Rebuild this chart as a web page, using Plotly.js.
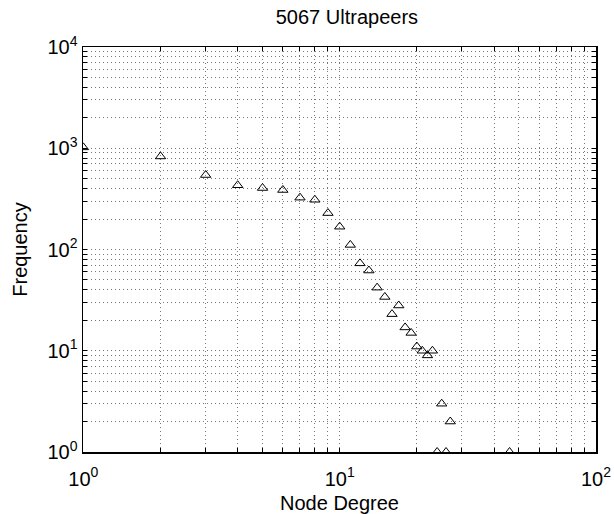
<!DOCTYPE html>
<html>
<head>
<meta charset="utf-8">
<script src="https://cdn.plot.ly/plotly-3.0.1.min.js"></script>
<style>
  html, body { margin: 0; padding: 0; background: #fff; }
  #chart { width: 614px; height: 514px; }
</style>
</head>
<body>
<div id="chart"></div>
<script>
// Data
const nodeDegree = [1, 2, 3, 4, 5, 6, 7, 8, 9, 10, 11, 12, 13, 14, 15, 16, 17, 18, 19, 20, 21, 22, 23, 24, 25, 26, 27, 46];
const frequency  = [1020, 830, 544, 431, 405, 387, 325, 310, 229, 168, 111, 73, 62, 42, 34, 23, 28, 17, 15, 11, 10, 9, 10, 1, 3, 1, 2, 1];

// Tick positions (log axes, major + minor grid)
const xTickVals = [1, 2, 3, 4, 5, 6, 7, 8, 9, 10, 20, 30, 40, 50, 60, 70, 80, 90, 100];
const xTickText = ['10<sup>0</sup>', '', '', '', '', '', '', '', '', '10<sup>1</sup>', '', '', '', '', '', '', '', '', '10<sup>2</sup>'];
const yTickVals = [1, 2, 3, 4, 5, 6, 7, 8, 9, 10, 20, 30, 40, 50, 60, 70, 80, 90, 100, 200, 300, 400, 500, 600, 700, 800, 900, 1000, 2000, 3000, 4000, 5000, 6000, 7000, 8000, 9000, 10000];
const yTickText = ['10<sup>0</sup>', '', '', '', '', '', '', '', '', '10<sup>1</sup>', '', '', '', '', '', '', '', '', '10<sup>2</sup>', '', '', '', '', '', '', '', '', '10<sup>3</sup>', '', '', '', '', '', '', '', '', '10<sup>4</sup>'];

const titleText = '5067 Ultrapeers';
const xTitle = 'Node Degree';
const yTitle = 'Frequency';

const FONT = 'Liberation Sans, Arial, Helvetica, sans-serif';

const trace = {
  x: nodeDegree,
  y: frequency,
  type: 'scatter',
  mode: 'markers',
  marker: {
    symbol: 'triangle-up-open',
    size: 9,
    color: '#000',
    line: { width: 1, color: '#000' }
  },
  cliponaxis: true,
  hoverinfo: 'x+y'
};

const axisCommon = {
  type: 'log',
  showline: true,
  linecolor: '#000',
  linewidth: 1.5,
  mirror: 'ticks',
  ticks: 'inside',
  ticklen: 4,
  tickwidth: 1,
  tickcolor: '#000',
  tickmode: 'array',
  showgrid: true,
  gridcolor: '#777',
  gridwidth: 1,
  griddash: '1px,3px',
  zeroline: false,
  tickfont: { family: FONT, size: 20, color: '#000' },
  automargin: false
};

const layout = {
  width: 614,
  height: 514,
  margin: { l: 83, r: 18, t: 47, b: 62 },
  paper_bgcolor: '#fff',
  plot_bgcolor: '#fff',
  showlegend: false,
  font: { family: FONT, color: '#000' },
  title: {
    text: titleText,
    font: { family: FONT, size: 20, color: '#000' },
    xref: 'container', x: 0.565, xanchor: 'center',
    yref: 'container', y: 0.966, yanchor: 'middle'
  },
  xaxis: Object.assign({}, axisCommon, {
    range: [-0.0015, 2],
    tickvals: xTickVals,
    ticktext: xTickText,
    ticklabelstandoff: 8,
    title: { text: xTitle, font: { family: FONT, size: 20, color: '#000' }, standoff: 12 }
  }),
  yaxis: Object.assign({}, axisCommon, {
    range: [0, 4],
    tickvals: yTickVals,
    ticktext: yTickText,
    title: { text: yTitle, font: { family: FONT, size: 20, color: '#000' }, standoff: 14 }
  })
};

Plotly.newPlot('chart', [trace], layout, { displayModeBar: false, staticPlot: true });
</script>
</body>
</html>
